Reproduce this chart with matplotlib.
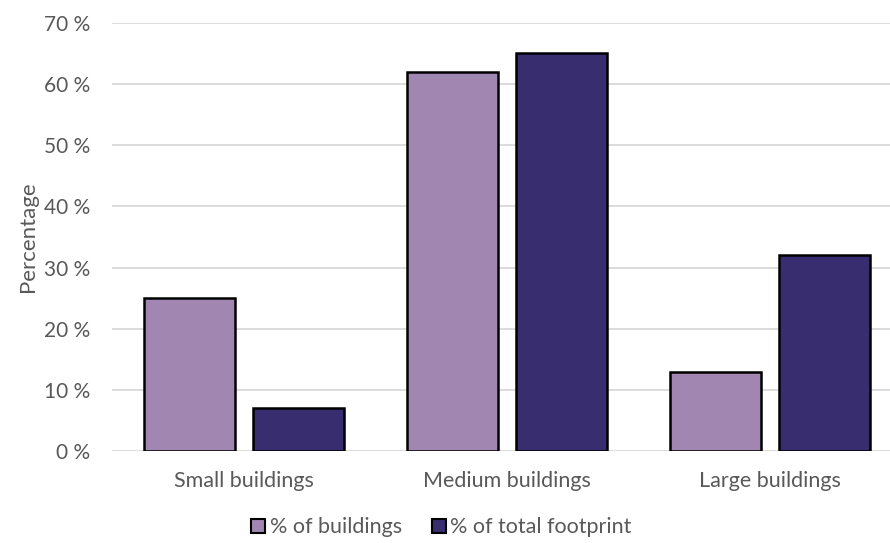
import numpy as np
import matplotlib.pyplot as plt
from matplotlib.patches import Patch

# Data
categories = ['Small buildings', 'Medium buildings', 'Large buildings']
pct_buildings = [25, 62, 13]
pct_footprint = [7, 65, 32]
series_labels = ['% of buildings', '% of total footprint']
yticks = [0, 10, 20, 30, 40, 50, 60, 70]

light = '#a086b0'
dark = '#382d6f'
text_col = '#595959'

plt.rcParams['font.family'] = ['Lato', 'DejaVu Sans']

fig = plt.figure(figsize=(8.9, 5.43), dpi=100)
ax = fig.add_axes([0.126, 0.169, 0.874, 0.789])

x = np.arange(len(categories))
width = 0.346
off = 0.207
ax.bar(x - off, pct_buildings, width, color=light, edgecolor='black', linewidth=1.8, zorder=3)
ax.bar(x + off, pct_footprint, width, color=dark, edgecolor='black', linewidth=1.8, zorder=3)

ax.set_ylim(0, 70)
ax.set_xlim(-0.5, 2.456)
ax.set_yticks(yticks)
ax.set_yticklabels([f'{v} %' for v in yticks])
ax.set_xticks(x)
ax.set_xticklabels(categories)
ax.yaxis.grid(True, color='#d9d9d9', linewidth=1.3, zorder=0)
ax.set_axisbelow(True)
for s in ax.spines.values():
    s.set_visible(False)
ax.tick_params(axis='y', length=0, colors=text_col, labelsize=15, pad=16)
ax.tick_params(axis='x', length=0, colors=text_col, labelsize=15.5, pad=14)
ax.set_ylabel('Percentage', fontsize=16, color=text_col, labelpad=4)

handles = [Patch(facecolor=light, edgecolor='black', linewidth=1.5),
           Patch(facecolor=dark, edgecolor='black', linewidth=1.5)]
fig.legend(handles, series_labels, loc='center', bbox_to_anchor=(0.496, 0.029), ncol=2,
           frameon=False, fontsize=15.5, labelcolor=text_col, handlelength=0.65, handleheight=0.65,
           handletextpad=0.2, columnspacing=1.4)

fig.savefig('out.png', dpi=100)
